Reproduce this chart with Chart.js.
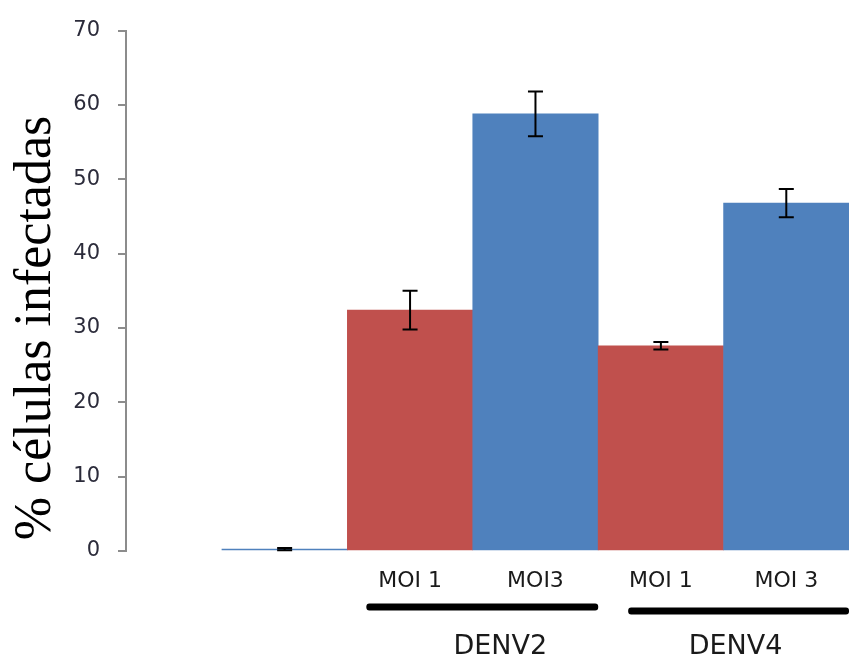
<!DOCTYPE html>
<html>
<head>
<meta charset="utf-8">
<script src="https://cdn.jsdelivr.net/npm/chart.js@4/dist/chart.umd.min.js"></script>
<style>
  html, body { margin: 0; padding: 0; background: #ffffff; }
  #wrap { width: 849px; height: 659px; position: relative; }
</style>
</head>
<body>
<div id="wrap"><canvas id="chart" width="849" height="659"></canvas></div>
<script>
// Bar positions on the x axis (0 = uninfected control)
const positions = [0, 1, 2, 3, 4];
const tickLabels = ['', 'MOI 1', 'MOI3', 'MOI 1', 'MOI 3'];
const infected = [0.25, 32.4, 58.8, 27.6, 46.8];     // % infected cells
const errors   = [0.15, 2.6, 3.0, 0.5, 1.9];          // error bar half-lengths
const groupNames = ['DENV2', 'DENV4'];
const groupMembers = [[1, 2], [3, 4]];
const yTicks = [0, 10, 20, 30, 40, 50, 60, 70];

const RED = '#C0504D';
const BLUE = '#4F81BD';
const barColors = [BLUE, RED, BLUE, RED, BLUE];

// Error bars with caps
const errorBarPlugin = {
  id: 'errorBars',
  afterDatasetsDraw(chart) {
    const { ctx, scales: { x, y } } = chart;
    ctx.save();
    ctx.strokeStyle = '#000';
    positions.forEach((p, i) => {
      const px = x.getPixelForValue(p);
      const top = y.getPixelForValue(infected[i] + errors[i]);
      const bot = y.getPixelForValue(infected[i] - errors[i]);
      ctx.lineWidth = 2;
      ctx.beginPath();
      ctx.moveTo(px, top); ctx.lineTo(px, bot);
      ctx.stroke();
      ctx.beginPath();
      ctx.moveTo(px - 7.5, top); ctx.lineTo(px + 7.5, top);
      ctx.moveTo(px - 7.5, bot); ctx.lineTo(px + 7.5, bot);
      ctx.stroke();
    });
    ctx.restore();
  }
};

// Group underlines and serotype labels below the axis
const groupPlugin = {
  id: 'groups',
  afterDraw(chart) {
    const { ctx, scales: { x } } = chart;
    const half = (x.getPixelForValue(1) - x.getPixelForValue(0)) / 2;
    const style = [
      { inL: 19, inR: 0, lineY: 607, textDx: 18 },
      { inL: 30, inR: 0, lineY: 611, textDx: -3 }
    ];
    ctx.save();
    groupMembers.forEach((m, g) => {
      const s = style[g];
      const left = x.getPixelForValue(m[0]) - half + s.inL;
      const right = Math.min(x.getPixelForValue(m[m.length - 1]) + half - s.inR, chart.width);
      ctx.fillStyle = '#000';
      ctx.beginPath();
      ctx.roundRect(left, s.lineY - 3.5, right - left, 7, 3);
      ctx.fill();
      ctx.fillStyle = '#1a1a1a';
      ctx.font = '27px "DejaVu Sans"';
      ctx.textAlign = 'center';
      ctx.textBaseline = 'middle';
      ctx.fillText(groupNames[g], (left + right) / 2 + s.textDx, 647);
    });
    // Y axis title
    ctx.translate(36, 328);
    ctx.rotate(-Math.PI / 2);
    ctx.fillStyle = '#000';
    ctx.font = '52px "Liberation Serif"';
    ctx.textAlign = 'center';
    ctx.textBaseline = 'middle';
    ctx.fillText('% células infectadas', 0, 0);
    ctx.restore();
  }
};

new Chart(document.getElementById('chart'), {
  type: 'bar',
  data: {
    datasets: [{
      data: positions.map((p, i) => ({ x: p, y: infected[i] })),
      backgroundColor: barColors,
      borderWidth: 0,
      barPercentage: 1,
      categoryPercentage: 1
    }]
  },
  options: {
    responsive: false,
    animation: false,
    layout: { padding: { top: 30, left: 0, right: 0, bottom: 0 } },
    plugins: { legend: { display: false }, tooltip: { enabled: false } },
    scales: {
      x: {
        type: 'linear',
        min: -1.265,
        max: 4.5,
        offset: false,
        grid: { display: false, drawTicks: false },
        border: { display: false },
        afterBuildTicks(scale) {
          scale.ticks = positions.map(v => ({ value: v }));
        },
        afterFit(scale) { scale.height = 108; },
        ticks: {
          autoSkip: false,
          maxRotation: 0,
          padding: 17,
          color: '#1a1a1a',
          font: { family: 'DejaVu Sans', size: 22 },
          callback: (v) => tickLabels[positions.indexOf(v)] ?? ''
        }
      },
      y: {
        min: 0,
        max: 70,
        afterBuildTicks(scale) {
          scale.ticks = yTicks.map(v => ({ value: v }));
        },
        afterFit(scale) { scale.width = 126; },
        grid: {
          display: true,
          drawOnChartArea: false,
          drawTicks: true,
          tickLength: 8,
          color: '#8c8c8c',
          lineWidth: 2
        },
        border: { display: true, color: '#8c8c8c', width: 2 },
        ticks: {
          padding: 18,
          color: '#2b2b3a',
          font: { family: 'DejaVu Sans', size: 21 }
        }
      }
    }
  },
  plugins: [errorBarPlugin, groupPlugin]
});
</script>
</body>
</html>
